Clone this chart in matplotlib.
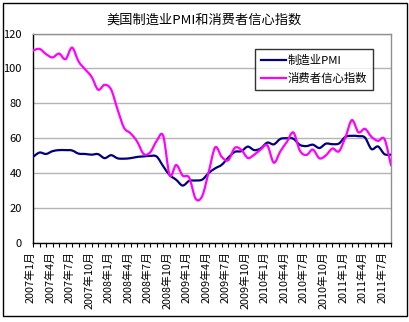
import matplotlib
matplotlib.use("Agg")
import matplotlib.pyplot as plt
import matplotlib.transforms as mtransforms
from matplotlib.patches import Rectangle, PathPatch
from matplotlib.path import Path
from matplotlib.lines import Line2D

plt.rcParams["font.family"] = ["Noto Sans CJK SC", "DejaVu Sans"]
plt.rcParams["axes.unicode_minus"] = False

# 2007年1月 - 2011年8月，月度数据
months = [f"{y}年{m}月" for y in range(2007, 2012) for m in range(1, 13)][:56]

pmi = [
    49.3, 51.8, 51.0, 52.6, 53.2, 53.2, 53.0, 51.2, 51.0, 50.6, 50.9, 48.6,
    50.3, 48.5, 48.3, 48.6, 49.3, 49.6, 49.9, 49.5, 44.0, 38.9, 36.2, 32.9,
    35.6, 35.8, 36.3, 40.1, 42.8, 44.8, 48.9, 52.2, 52.6, 55.2, 53.2, 54.2,
    57.5, 56.5, 59.6, 60.0, 59.7, 56.2, 55.5, 56.3, 54.4, 56.9, 56.6, 57.0,
    60.8, 61.4, 61.2, 60.4, 53.8, 55.3, 50.9, 50.6,
]

confidence = [
    110.2, 111.2, 108.2, 106.3, 108.5, 105.3, 111.9, 104.0, 99.5, 95.2, 87.8, 90.6,
    87.9, 76.4, 65.9, 62.8, 58.1, 51.0, 51.9, 58.5, 61.4, 38.8, 44.7, 38.6,
    37.4, 25.3, 26.9, 40.8, 54.8, 49.3, 47.4, 54.5, 53.4, 48.7, 50.6, 53.6,
    55.9, 46.0, 52.5, 57.9, 63.3, 52.9, 50.4, 53.5, 48.5, 50.2, 54.1, 52.5,
    60.6, 70.4, 63.4, 65.4, 60.8, 58.5, 59.5, 44.5,
]

yticks = [0, 20, 40, 60, 80, 100, 120]


def smooth_path(xs, ys):
    # Excel 风格的平滑线：每段用三次贝塞尔曲线连接相邻数据点
    n = len(xs)
    verts = [(xs[0], ys[0])]
    codes = [Path.MOVETO]
    for i in range(n - 1):
        p0 = (xs[max(i - 1, 0)], ys[max(i - 1, 0)])
        p1 = (xs[i], ys[i])
        p2 = (xs[i + 1], ys[i + 1])
        p3 = (xs[min(i + 2, n - 1)], ys[min(i + 2, n - 1)])
        c1 = (p1[0] + (p2[0] - p0[0]) / 6, p1[1] + (p2[1] - p0[1]) / 6)
        c2 = (p2[0] - (p3[0] - p1[0]) / 6, p2[1] - (p3[1] - p1[1]) / 6)
        verts += [c1, c2, p2]
        codes += [Path.CURVE4] * 3
    return Path(verts, codes)


fig = plt.figure(figsize=(4.10, 3.22), dpi=100)
ax = fig.add_axes([33 / 410, 1 - 243 / 322, 358 / 410, 209.5 / 322])

x = list(range(len(months)))
series = [("制造业PMI", pmi, "#000080"), ("消费者信心指数", confidence, "#FF00FF")]
handles = []
for name, vals, color in series:
    ax.add_patch(PathPatch(smooth_path(x, vals), facecolor="none",
                           edgecolor=color, lw=1.6, zorder=3,
                           capstyle="round", joinstyle="round"))
    handles.append(Line2D([], [], color=color, lw=1.6, label=name))

ax.set_xlim(0, len(months) - 1)
ax.set_ylim(0, 120)
ax.set_yticks(yticks)
ax.yaxis.grid(True, color="#b4b4b4", lw=1)
ax.set_axisbelow(True)
ax.tick_params(axis="y", length=0, pad=8, labelsize=8)

ax.set_xticks(x)
ax.set_xticklabels([m if i % 3 == 0 else "" for i, m in enumerate(months)],
                   rotation=90, fontsize=7.8)
ax.tick_params(axis="x", length=3, width=0.8, pad=3, direction="out")
shift = mtransforms.ScaledTranslation(-2.5 / 100, 0, fig.dpi_scale_trans)
for lab in ax.get_xticklabels():
    lab.set_transform(lab.get_transform() + shift)

for side in ["left", "bottom"]:
    ax.spines[side].set_color("black")
    ax.spines[side].set_linewidth(1)
for side in ["top", "right"]:
    ax.spines[side].set_color("#909090")
    ax.spines[side].set_linewidth(1)

fig.text(0.497, 1 - 20 / 322, "美国制造业PMI和消费者信心指数",
         ha="center", va="center", fontsize=9.5)

leg = ax.legend(handles=handles, loc="upper left",
                bbox_to_anchor=(255 / 410, 1 - 49 / 322),
                bbox_transform=fig.transFigure, fontsize=8.2, frameon=True,
                fancybox=False, borderaxespad=0, handlelength=2.2,
                handletextpad=0.2, borderpad=0.5, labelspacing=0.6)
leg.get_frame().set_edgecolor("black")
leg.get_frame().set_linewidth(1)

fig.patches.append(Rectangle((3 / 410, 1 - 316 / 322), 404 / 410, 313 / 322,
                             transform=fig.transFigure, fill=False,
                             edgecolor="black", lw=1))

fig.savefig("out.png", dpi=100)
